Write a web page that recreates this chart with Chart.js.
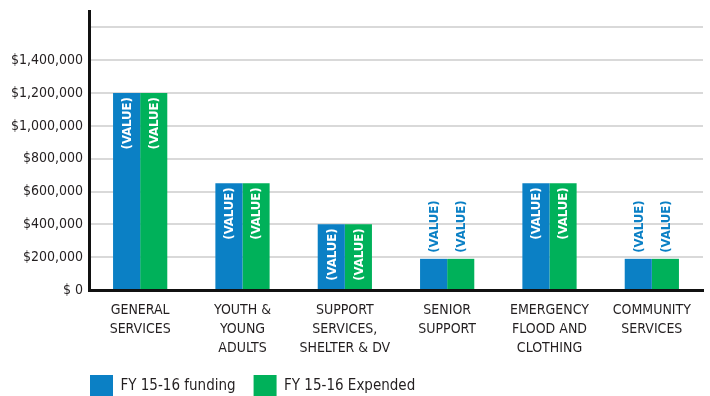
<!DOCTYPE html>
<html lang="en">
<head>
    <meta charset="UTF-8">
    <title>FY 15-16 funding vs expended</title>
    <style>
        html, body {
            margin: 0;
            padding: 0;
            background: #ffffff;
            overflow: hidden;
        }
        .chart-box {
            position: relative;
            width: 710px;
            height: 396px;
        }
    </style>
</head>
<body>
    <div class="chart-box">
        <canvas id="fundingChart"></canvas>
    </div>
    <script src="https://cdn.jsdelivr.net/npm/chart.js"></script>
    <script>
        // Categories (multi-line labels as in the original)
        const categories = [
            ['GENERAL', 'SERVICES'],
            ['YOUTH &', 'YOUNG', 'ADULTS'],
            ['SUPPORT', 'SERVICES,', 'SHELTER & DV'],
            ['SENIOR', 'SUPPORT'],
            ['EMERGENCY', 'FLOOD AND', 'CLOTHING'],
            ['COMMUNITY', 'SERVICES']
        ];

        // Series values
        const funding = [1200000, 650000, 400000, 190000, 650000, 190000];
        const expended = [1200000, 650000, 400000, 190000, 650000, 190000];

        // Y axis ticks and their labels (top gridline has no label)
        const yTicks = [0, 200000, 400000, 600000, 800000, 1000000, 1200000, 1400000, 1600000];
        const yTickLabels = ['$ 0', '$200,000', '$400,000', '$600,000', '$800,000',
            '$1,000,000', '$1,200,000', '$1,400,000', ''];

        const valueText = '(VALUE)';

        const BLUE = '#0b80c5';
        const GREEN = '#00b15a';
        const INK = '#231f20';
        const FONT = "'Liberation Sans Narrow', 'DejaVu Sans Condensed', 'Arial Narrow', sans-serif";

        // Rotated "(VALUE)" labels: inside tall bars, above short ones
        const valueLabels = {
            id: 'valueLabels',
            afterDatasetsDraw(chart) {
                const ctx = chart.ctx;
                ctx.save();
                ctx.font = 'bold 13px ' + FONT;
                ctx.textBaseline = 'middle';
                ctx.textAlign = 'left';
                const w = ctx.measureText(valueText).width;
                chart.data.datasets.forEach((ds, i) => {
                    chart.getDatasetMeta(i).data.forEach(bar => {
                        const h = bar.base - bar.y;
                        let start, color;
                        if (h > w + 8) {
                            start = bar.y + 4 + w;
                            color = '#ffffff';
                        } else {
                            start = bar.y - 6;
                            color = BLUE;
                        }
                        ctx.save();
                        ctx.translate(bar.x + 1, start);
                        ctx.rotate(-Math.PI / 2);
                        ctx.fillStyle = color;
                        ctx.fillText(valueText, 0, 0);
                        ctx.restore();
                    });
                });
                ctx.restore();
            }
        };

        // Move the legend to sit under the plot, left aligned with the axis
        const legendPlace = {
            id: 'legendPlace',
            afterLayout(chart) {
                if (chart.legend) {
                    chart.legend.left = 72;
                    chart.legend.top = 357;
                }
            }
        };

        new Chart(document.getElementById('fundingChart'), {
            type: 'bar',
            data: {
                labels: categories,
                datasets: [{
                    label: 'FY 15-16 funding',
                    data: funding,
                    backgroundColor: BLUE,
                    borderWidth: 0
                }, {
                    label: 'FY 15-16 Expended',
                    data: expended,
                    backgroundColor: GREEN,
                    borderWidth: 0
                }]
            },
            options: {
                responsive: true,
                maintainAspectRatio: false,
                animation: false,
                layout: {
                    padding: { left: 0, right: 7, top: 11, bottom: -20 }
                },
                datasets: {
                    bar: {
                        categoryPercentage: 0.53,
                        barPercentage: 1.0
                    }
                },
                plugins: {
                    tooltip: { enabled: false },
                    legend: {
                        position: 'bottom',
                        align: 'start',
                        labels: {
                            boxWidth: 23,
                            boxHeight: 23,
                            padding: 18,
                            color: INK,
                            font: { family: FONT, size: 15 }
                        }
                    }
                },
                scales: {
                    x: {
                        grid: { display: false, drawTicks: false },
                        border: { display: true, color: '#111111', width: 3 },
                        ticks: {
                            color: INK,
                            maxRotation: 0,
                            autoSkip: false,
                            padding: 11,
                            font: { family: FONT, size: 14, lineHeight: 1.36 }
                        },
                        afterFit(scale) {
                            scale.height = 75;
                        }
                    },
                    y: {
                        min: 0,
                        max: 1700000,
                        grid: { color: '#d9d9d9', lineWidth: 2, drawTicks: false },
                        border: { display: true, color: '#111111', width: 3 },
                        afterBuildTicks(scale) {
                            scale.ticks = yTicks.map(v => ({ value: v }));
                        },
                        ticks: {
                            color: INK,
                            padding: 6,
                            font: { family: FONT, size: 14 },
                            callback: (value) => yTickLabels[yTicks.indexOf(value)]
                        },
                        afterFit(scale) {
                            scale.width = 89;
                            scale.paddingTop = 0;
                            scale.paddingBottom = 0;
                        }
                    }
                }
            },
            plugins: [valueLabels, legendPlace]
        });
    </script>
</body>
</html>
